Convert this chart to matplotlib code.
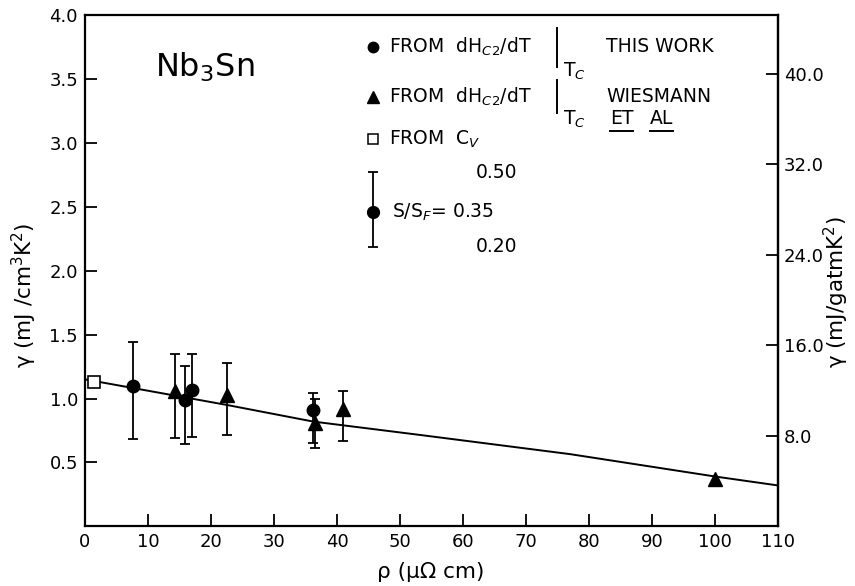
import matplotlib
matplotlib.use("Agg")
import matplotlib.pyplot as plt
import numpy as np

plt.rcParams['font.family'] = ['DejaVu Sans']
plt.rcParams['mathtext.fontset'] = 'dejavusans'

# ---- data ----
# circles: from dHc2/dT |Tc, this work
circ_rho = [7.66, 15.9, 17.0, 36.1]
circ_gam = [1.10, 0.99, 1.067, 0.91]
circ_top = [1.44, 1.257, 1.346, 1.046]
circ_bot = [0.68, 0.645, 0.70, 0.655]

# triangles: from dHc2/dT |Tc, Wiesmann et al
tri_rho = [14.28, 22.5, 36.5, 41.0]
tri_gam = [1.06, 1.03, 0.806, 0.916]
tri_top = [1.346, 1.276, 1.0, 1.06]
tri_bot = [0.69, 0.715, 0.61, 0.67]
tri_noerr_rho = [100.0]
tri_noerr_gam = [0.37]

# square: from Cv
sq_rho = [1.48]
sq_gam = [1.13]

# curve drawn through the data
line_rho = [0.0, 22.5, 36.2, 53.2, 77.0, 100.0, 110.0]
line_gam = [1.15, 0.95, 0.82, 0.715, 0.565, 0.39, 0.32]

x_ticks = [0, 10, 20, 30, 40, 50, 60, 70, 80, 90, 100, 110]
y_ticks = [0.5, 1.0, 1.5, 2.0, 2.5, 3.0, 3.5, 4.0]
y2_ticks = [8.0, 16.0, 24.0, 32.0, 40.0]
conv = 11.3  # mJ/gatmK^2 per mJ/cm^3K^2

W, H = 855, 586
fig = plt.figure(figsize=(W / 100, H / 100), dpi=100)
L, R, T, B = 85, 778.3, 15, 526.4
ax = fig.add_axes([L / W, 1 - B / H, (R - L) / W, (B - T) / H])
ax.set_xlim(0, 110)
ax.set_ylim(0, 4.0)

for s in ax.spines.values():
    s.set_linewidth(1.6)

ax.set_xticks(x_ticks)
ax.set_xticklabels([str(v) for v in x_ticks])
ax.set_yticks(y_ticks)
ax.set_yticklabels([f"{v:.1f}" for v in y_ticks])
ax.tick_params(direction='in', length=8.5, width=1.3, labelsize=13, pad=5,
               top=False, right=False)

sec = ax.secondary_yaxis('right', functions=(lambda y: y * conv, lambda y: y / conv))
sec.set_yticks(y2_ticks)
sec.set_yticklabels([f"{v:.1f}" for v in y2_ticks])
sec.tick_params(direction='in', length=8.5, width=1.3, labelsize=13, pad=4)
sec.spines['right'].set_linewidth(1.6)

# curve
ax.plot(line_rho, line_gam, color='black', lw=1.4, zorder=2)

# data points
def eb(x, y, top, bot, marker, ms):
    y = np.array(y); top = np.array(top); bot = np.array(bot)
    ax.errorbar(x, y, yerr=[y - bot, top - y], fmt=marker, color='black',
                ms=ms, elinewidth=1.3, capsize=3.5, capthick=1.3, zorder=3)

eb(circ_rho, circ_gam, circ_top, circ_bot, 'o', 9)
eb(tri_rho, tri_gam, tri_top, tri_bot, '^', 10)
ax.plot(tri_noerr_rho, tri_noerr_gam, '^', color='black', ms=10, zorder=3)
ax.plot(sq_rho, sq_gam, 's', mfc='white', mec='black', ms=8, mew=1.2, zorder=3)

# ---- annotation / legend block (pixel -> data helpers) ----
def dx(px):
    return (px - L) / (R - L) * 110

def dy(py):
    return (B - py) / (B - T) * 4.0

fs = 13.5
ax.text(dx(155), dy(67), "Nb$_3$Sn", fontsize=23, ha='left', va='center')

mx = dx(373)
tx = dx(389)
ax.plot([mx], [dy(47)], 'o', color='black', ms=7.5)
ax.text(tx, dy(47), "FROM  dH$_{C2}$/dT", fontsize=fs, ha='left', va='center')
ax.plot([dx(557), dx(557)], [dy(28), dy(67)], color='black', lw=1.4)
ax.text(dx(563), dy(71), "T$_C$", fontsize=fs, ha='left', va='center')
ax.text(dx(606), dy(47), "THIS WORK", fontsize=fs, ha='left', va='center')

ax.plot([mx], [dy(97)], '^', color='black', ms=8.5)
ax.text(tx, dy(97), "FROM  dH$_{C2}$/dT", fontsize=fs, ha='left', va='center')
ax.plot([dx(557), dx(557)], [dy(80), dy(113)], color='black', lw=1.4)
ax.text(dx(563), dy(119), "T$_C$", fontsize=fs, ha='left', va='center')
ax.text(dx(606), dy(97), "WIESMANN", fontsize=fs, ha='left', va='center')
t_et = ax.text(dx(610), dy(119), "ET", fontsize=fs, ha='left', va='center')
t_al = ax.text(dx(650), dy(119), "AL", fontsize=fs, ha='left', va='center')

ax.plot([mx], [dy(139)], 's', mfc='white', mec='black', ms=7, mew=1.1)
ax.text(tx, dy(139), "FROM  C$_V$", fontsize=fs, ha='left', va='center')

ax.errorbar([mx], [dy(212)], yerr=[[dy(212) - dy(247)], [dy(172) - dy(212)]],
            fmt='o', color='black', ms=8.5, elinewidth=1.3, capsize=3.5, capthick=1.3)
ax.text(dx(476), dy(172), "0.50", fontsize=fs, ha='left', va='center')
ax.text(dx(392), dy(212), "S/S$_F$= 0.35", fontsize=fs, ha='left', va='center')
ax.text(dx(476), dy(247), "0.20", fontsize=fs, ha='left', va='center')

# underline ET and AL
fig.canvas.draw()
rend = fig.canvas.get_renderer()
inv = ax.transData.inverted()
for t in (t_et, t_al):
    bb = t.get_window_extent(rend)
    (x0, y0) = inv.transform((bb.x0, bb.y0 - 3))
    (x1, _) = inv.transform((bb.x1, bb.y0 - 3))
    ax.plot([x0, x1], [y0, y0], color='black', lw=1.4)

# axis labels
fig.text(24 / W, 1 - 295 / H, "γ (mJ /cm$^3$K$^2$)", rotation=90, fontsize=15.5,
         ha='center', va='center')
fig.text(836 / W, 1 - 292 / H, "γ (mJ/gatmK$^2$)", rotation=90, fontsize=15.5,
         ha='center', va='center')
fig.text(431 / W, 1 - 572 / H, "ρ (μΩ cm)", fontsize=15.5, ha='center', va='center')

fig.savefig("out.png", dpi=100)
